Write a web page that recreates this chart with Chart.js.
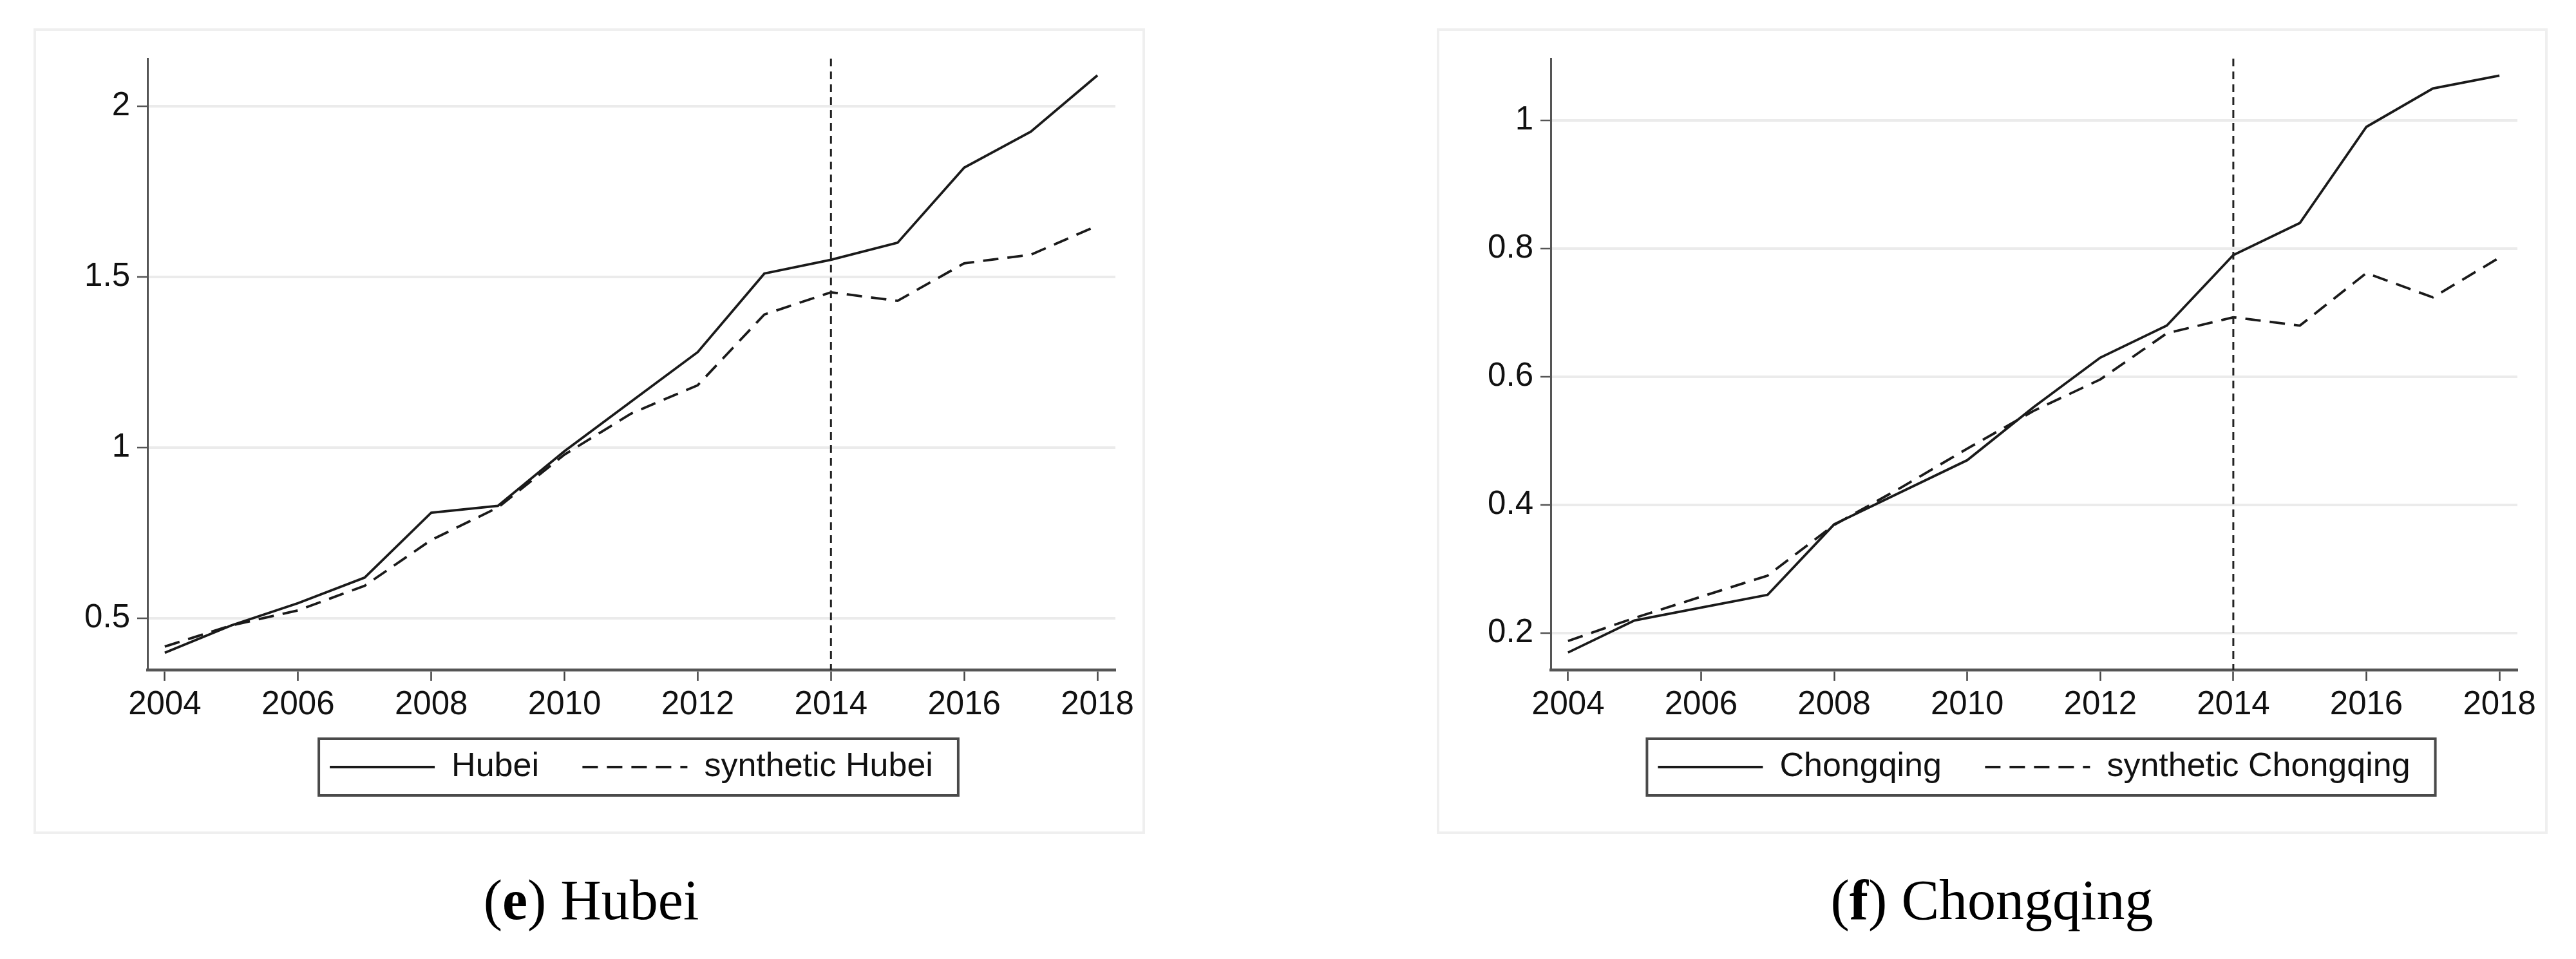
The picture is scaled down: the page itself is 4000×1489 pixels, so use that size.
<!DOCTYPE html>
<html>
<head>
<meta charset="utf-8">
<script src="https://cdn.jsdelivr.net/npm/chart.js"></script>
<style>
  body { margin: 0; width: 4000px; height: 1489px; background: #fff; position: relative; overflow: hidden; }
  .frame { position: absolute; top: 44px; height: 1251px; border: 4px solid #efefef; box-sizing: border-box; }
  .box { position: absolute; top: 48px; height: 1199px; }
  .caption { position: absolute; top: 1354px; font-family: 'Liberation Serif', serif; font-size: 88px; line-height: 88px;
             color: #000; white-space: nowrap; transform: translateX(-50%); }
</style>
</head>
<body>
<div class="frame" style="left:52px;width:1726px"></div>
<div class="frame" style="left:2231px;width:1725px"></div>
<div class="box" style="left:56px;width:1716px"><canvas id="model01"></canvas></div>
<div class="box" style="left:2237px;width:1713px"><canvas id="model02"></canvas></div>
<div class="caption" style="left:918px">(<b>e</b>) Hubei</div>
<div class="caption" style="left:3093px">(<b>f</b>) Chongqing</div>

<script>
const ctx1 = document.getElementById('model01');
const ctx2 = document.getElementById('model02');

// anos e ticks
const years = [2004, 2005, 2006, 2007, 2008, 2009, 2010, 2011, 2012, 2013, 2014, 2015, 2016, 2017, 2018];
const xTicks = [2004, 2006, 2008, 2010, 2012, 2014, 2016, 2018];
const treatYear = 2014;

// Hubei
const hubei = [0.40, 0.48, 0.545, 0.62, 0.81, 0.83, 0.99, 1.135, 1.28, 1.51, 1.55, 1.60, 1.82, 1.925, 2.09];
const synHubei = [0.418, 0.48, 0.524, 0.596, 0.73, 0.825, 0.98, 1.10, 1.183, 1.39, 1.455, 1.43, 1.54, 1.565, 1.65];
const hubeiTicks = [0.5, 1, 1.5, 2];

// Chongqing
const chongqing = [0.17, 0.22, 0.24, 0.26, 0.37, 0.42, 0.47, 0.553, 0.63, 0.68, 0.79, 0.84, 0.99, 1.05, 1.07];
const synChongqing = [0.188, 0.224, 0.257, 0.29, 0.369, 0.427, 0.488, 0.547, 0.596, 0.668, 0.693, 0.68, 0.762, 0.724, 0.786];
const chongqingTicks = [0.2, 0.4, 0.6, 0.8, 1];

const font = "'Liberation Sans', Arial, sans-serif";

//linha vertical do ano de tratamento
const treatLine = {
  id: 'treatLine',
  afterDatasetsDraw(chart) {
    const c = chart.ctx
    const x = chart.scales.x.getPixelForValue(treatYear)
    c.save()
    c.strokeStyle = '#222'
    c.lineWidth = 3
    c.setLineDash([12, 8])
    c.beginPath()
    c.moveTo(x, chart.chartArea.top)
    c.lineTo(x, chart.chartArea.bottom)
    c.stroke()
    c.restore()
  }
}

//caixa em volta da legenda
const legendBox = {
  id: 'legendBox',
  afterDraw(chart) {
    const boxes = chart.legend.legendHitBoxes
    if (!boxes.length) return
    const left = Math.min(...boxes.map(b => b.left))
    const right = Math.max(...boxes.map(b => b.left + b.width))
    const mid = boxes[0].top + boxes[0].height / 2
    const c = chart.ctx
    c.save()
    c.strokeStyle = '#4a4a4a'
    c.lineWidth = 4
    c.strokeRect(left - 17, mid - 44, right - left + 56, 88)
    c.restore()
  }
}

//legenda com o tracejado das linhas
function legendLabels(chart) {
  const items = Chart.defaults.plugins.legend.labels.generateLabels(chart)
  items.forEach((it, i) => {
    const ds = chart.data.datasets[i]
    it.lineDash = ds.borderDash || []
    it.lineWidth = ds.borderWidth
    it.strokeStyle = ds.borderColor
  })
  items[0].text += ' '
  return items
}

function panel(ctx, nameA, valsA, nameB, valsB, yMin, yMax, yTicks, axisW, padRight) {
  const data = {
    datasets: [
      {
        label: nameA,
        data: years.map((yr, i) => ({ x: yr, y: valsA[i] })),
        borderColor: '#1a1a1a',
        backgroundColor: '#1a1a1a',
        borderWidth: 3.8,
        pointRadius: 0,
        tension: 0
      },
      {
        label: nameB,
        data: years.map((yr, i) => ({ x: yr, y: valsB[i] })),
        borderColor: '#1a1a1a',
        backgroundColor: '#1a1a1a',
        borderWidth: 3.8,
        borderDash: [24, 14],
        pointRadius: 0,
        tension: 0
      }
    ]
  }

  return new Chart(ctx, {
    type: 'line',
    data: data,
    plugins: [treatLine, legendBox],
    options: {
      responsive: true,
      maintainAspectRatio: false,
      animation: false,
      devicePixelRatio: 1,
      events: [],
      layout: {
        padding: { top: 43, right: padRight, left: 0, bottom: 20 }
      },
      plugins: {
        tooltip: { enabled: false },
        legend: {
          position: 'bottom',
          fullSize: false,
          labels: {
            usePointStyle: true,
            pointStyle: 'line',
            pointStyleWidth: 163,
            padding: 53,
            color: '#111',
            font: { family: font, size: 52 },
            generateLabels: legendLabels
          }
        }
      },
      scales: {
        x: {
          type: 'linear',
          min: 2003.74,
          max: 2018.27,
          afterBuildTicks: s => { s.ticks = xTicks.map(v => ({ value: v })) },
          afterFit: s => { s.height = 72 },
          border: { display: true, color: '#555', width: 4.5 },
          grid: { drawOnChartArea: false, drawTicks: true, tickLength: 17, tickColor: '#444', tickWidth: 2.5 },
          ticks: {
            padding: 7,
            color: '#111',
            maxRotation: 0,
            font: { family: font, size: 51 },
            callback: v => String(v)
          }
        },
        y: {
          min: yMin,
          max: yMax,
          afterBuildTicks: s => { s.ticks = yTicks.map(v => ({ value: v })) },
          afterFit: s => { s.width = axisW },
          border: { display: true, color: '#555', width: 3 },
          grid: { color: '#ebebeb', lineWidth: 4, drawTicks: true, tickLength: 16, tickColor: '#555', tickWidth: 2.5 },
          ticks: {
            padding: 11,
            color: '#111',
            font: { family: font, size: 51 },
            callback: v => String(v)
          }
        }
      }
    }
  })
}

panel(ctx1, 'Hubei', hubei, 'synthetic Hubei', synHubei, 0.35, 2.139, hubeiTicks, 173, 40)
panel(ctx2, 'Chongqing', chongqing, 'synthetic Chongqing', synChongqing, 0.143, 1.0965, chongqingTicks, 171, 41)
</script>
</body>
</html>
